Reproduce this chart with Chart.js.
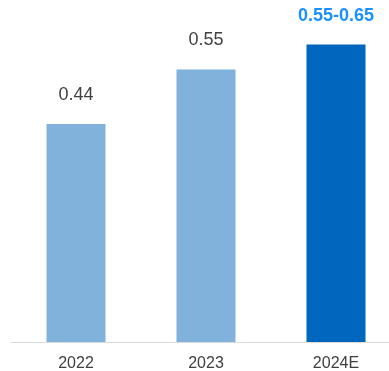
<!DOCTYPE html>
<html>
<head>
<meta charset="utf-8">
<script src="https://cdn.jsdelivr.net/npm/chart.js@4"></script>
<style>
    html, body { margin: 0; padding: 0; background: #fff; overflow: hidden; }
    #wrap { width: 401px; height: 371px; }
</style>
</head>
<body>
<div id="wrap"><canvas id="chart"></canvas></div>
<script>
// Chart data
const categories = ['2022', '2023', '2024E'];
const values = [0.44, 0.55, 0.60];
const valueLabels = ['0.44', '0.55', '0.55-0.65'];
const barColors = ['#80b2dc', '#80b2dc', '#0066be'];
const labelColors = ['#404040', '#404040', '#1a90ff'];
const labelBold = [false, false, true];

// Draw value labels above the bars
const valueLabelPlugin = {
    id: 'valueLabels',
    afterDatasetsDraw(chart) {
        const ctx = chart.ctx;
        const meta = chart.getDatasetMeta(0);
        ctx.save();
        ctx.textAlign = 'center';
        ctx.textBaseline = 'alphabetic';
        meta.data.forEach((bar, i) => {
            ctx.font = (labelBold[i] ? 'bold ' : '') + '18px "Liberation Sans", Arial, sans-serif';
            ctx.fillStyle = labelColors[i];
            ctx.fillText(valueLabels[i], bar.x, bar.y - 24);
        });
        ctx.restore();
    }
};

const ctx = document.getElementById('chart').getContext('2d');
new Chart(ctx, {
    type: 'bar',
    data: {
        labels: categories,
        datasets: [{
            data: values,
            backgroundColor: barColors,
            borderWidth: 0,
            barPercentage: 0.454,
            categoryPercentage: 1.0
        }]
    },
    options: {
        responsive: true,
        maintainAspectRatio: false,
        animation: false,
        layout: { padding: { left: 11, right: 0, top: 0, bottom: 0 } },
        plugins: {
            legend: { display: false },
            tooltip: { enabled: false }
        },
        scales: {
            x: {
                grid: { display: false, drawTicks: false },
                border: { display: true, color: '#d9d9d9', width: 1 },
                ticks: {
                    color: '#404040',
                    padding: 12,
                    font: { family: '"Liberation Sans", Arial, sans-serif', size: 16 }
                },
                afterFit(scale) { scale.height = 29; }
            },
            y: {
                display: false,
                min: 0,
                max: 0.69
            }
        }
    },
    plugins: [valueLabelPlugin]
});
</script>
</body>
</html>
